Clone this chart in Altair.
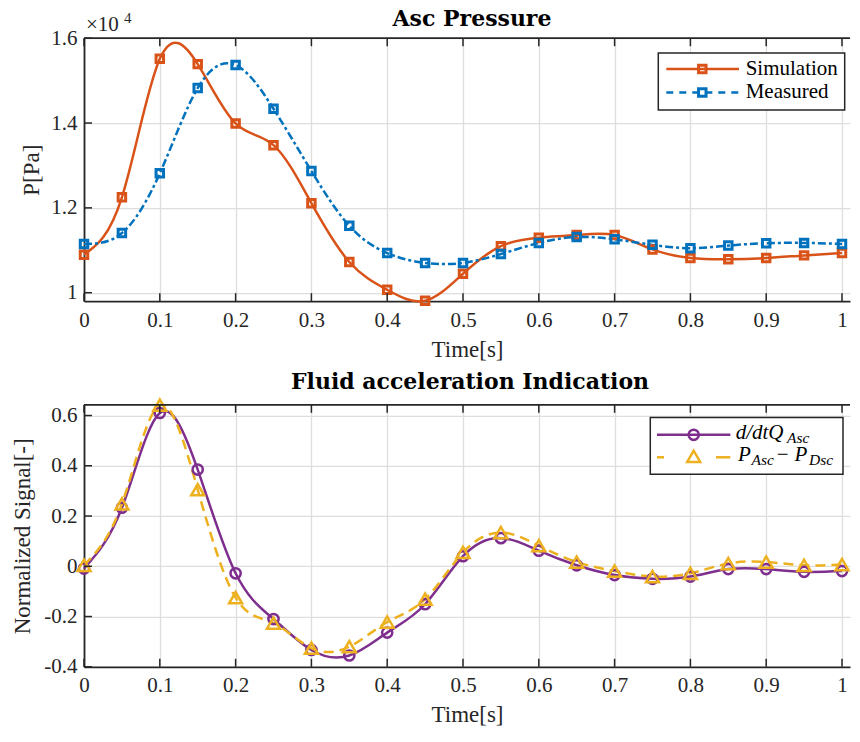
import altair as alt
import pandas as pd

# ---------------- data ----------------
t = [0.0, 0.05, 0.10, 0.15, 0.20, 0.25, 0.30, 0.35, 0.40, 0.45, 0.50,
     0.55, 0.60, 0.65, 0.70, 0.75, 0.80, 0.85, 0.90, 0.95, 1.00]
simulation = [10896, 12250, 15513, 15389, 13990, 13479, 12110, 10725, 10068, 9810, 10447,
              11097, 11298, 11360, 11360, 11020, 10818, 10787, 10818, 10880, 10934]
measured = [11150, 11406, 12814, 14824, 15366, 14337, 12868, 11576, 10934, 10702, 10702,
            10911, 11174, 11313, 11259, 11128, 11050, 11112, 11166, 11174, 11150]
dq_asc = [-0.009, 0.233, 0.610, 0.385, -0.028, -0.210, -0.333, -0.355, -0.264, -0.151, 0.040,
          0.112, 0.062, 0.004, -0.035, -0.050, -0.041, -0.011, -0.011, -0.022, -0.019]
p_diff = [0.004, 0.248, 0.641, 0.305, -0.125, -0.226, -0.326, -0.320, -0.222, -0.131, 0.055,
          0.134, 0.082, 0.017, -0.019, -0.041, -0.028, 0.011, 0.017, 0.004, 0.007]

x_ticks = [0, 0.1, 0.2, 0.3, 0.4, 0.5, 0.6, 0.7, 0.8, 0.9, 1.0]
y_ticks_top = [10000, 12000, 14000, 16000]
y_ticks_bot = [-0.4, -0.2, 0, 0.2, 0.4, 0.6]

top_title = "Asc Pressure"
bot_title = "Fluid acceleration Indication"
legend_top = ["Simulation", "Measured"]

# ---------------- styles ----------------
ORANGE = "#D95319"
BLUE = "#0072BD"
PURPLE = "#7E2F8E"
YELLOW = "#EDB120"
AX = "#262626"
FONT = "Liberation Serif"
W = 766
H1 = 263
H2 = 262
XMAX = 766 / 758
LX = -6   # legend shift

df_top = pd.DataFrame({"t": t, "sim": simulation, "meas": measured})
df_bot = pd.DataFrame({"t": t, "dq": dq_asc, "dp": p_diff})
one = pd.DataFrame({"k": [0]})
dfx = pd.DataFrame({"t": x_ticks})
dfy1 = pd.DataFrame({"sim": y_ticks_top})
dfy2 = pd.DataFrame({"dq": y_ticks_bot})

xs = alt.Scale(domain=[0, XMAX], nice=False, zero=False)
ys1 = alt.Scale(domain=[9800, 16000], nice=False, zero=False)
ys2 = alt.Scale(domain=[-0.4, 0.6427], nice=False, zero=False)

XAX = alt.Axis(values=x_ticks, format="~g", grid=True, ticks=False, domain=True,
               labelFlush=False, labelOverlap=False, title="Time[s]",
               labelPadding=8, titlePadding=8)
YAX1 = alt.Axis(values=y_ticks_top, labelExpr="format(datum.value/10000, '~g')", grid=True,
                ticks=False, domain=True, title="P[Pa]", labelPadding=7, titlePadding=7,
                labelFlush=False, labelOverlap=False)
YAX2 = alt.Axis(values=y_ticks_bot,
                labelExpr="datum.value < 0 ? '-' + format(-datum.value, '~g') : format(datum.value, '~g')",
                grid=True, ticks=False, domain=True, title="Normalized Signal[-]",
                labelPadding=7, titlePadding=9, labelFlush=False, labelOverlap=False)


def X():
    return alt.X("t:Q", scale=xs, axis=XAX)


def ticks_layer(H, dfy, yfield, ys, yax):
    tb = alt.Chart(dfx).mark_rule(color=AX, strokeWidth=1.5).encode(
        x=X(), y=alt.value(H - 8), y2=alt.value(H))
    tt = alt.Chart(dfx).mark_rule(color=AX, strokeWidth=1.5).encode(
        x=X(), y=alt.value(0), y2=alt.value(8))
    tl = alt.Chart(dfy).mark_rule(color=AX, strokeWidth=1.5).encode(
        y=alt.Y(yfield + ":Q", scale=ys, axis=yax), x=alt.value(0), x2=alt.value(8))
    border = alt.Chart(one).mark_rule(color=AX, strokeWidth=1.8).encode(
        x=alt.value(0), x2=alt.value(W), y=alt.value(0))
    return [tb, tt, tl, border]


def text_at(txt, x, y, size=21, italic=False, color="#000000", font=FONT,
            weight="normal", align="left"):
    return alt.Chart(one).mark_text(
        text=txt, align=align, baseline="alphabetic", font=font, fontSize=size,
        fontStyle="italic" if italic else "normal", fontWeight=weight, color=color
    ).encode(x=alt.value(x), y=alt.value(y))


def pts(df, field, ys, yax, shape, size, sw, color):
    return alt.Chart(df).mark_point(shape=shape, filled=False, size=size, strokeWidth=sw,
                                    color=color, opacity=1).encode(
        x=X(), y=alt.Y(field + ":Q", scale=ys, axis=yax))


def legend_point(shape, size, sw, color, x, y):
    return alt.Chart(one).mark_point(shape=shape, filled=False, size=size, strokeWidth=sw,
                                     color=color, opacity=1).encode(
        x=alt.value(x + LX), y=alt.value(y))


def legend_rule(color, x1, x2, y, dash=None):
    kw = {"color": color, "strokeWidth": 2.5}
    if dash:
        kw["strokeDash"] = dash
    return alt.Chart(one).mark_rule(**kw).encode(
        x=alt.value(x1 + LX), x2=alt.value(x2 + LX), y=alt.value(y))


def legend_box(x1, x2, y1, y2):
    return alt.Chart(one).mark_rect(fill="white", stroke=AX, strokeWidth=1.5).encode(
        x=alt.value(x1 + LX), x2=alt.value(x2 + LX), y=alt.value(y1), y2=alt.value(y2))


def ltext(txt, x, y, **kw):
    return text_at(txt, x + LX, y, **kw)


# ---------------- top panel ----------------
sim_line = alt.Chart(df_top).mark_line(interpolate="natural", color=ORANGE, strokeWidth=2.5).encode(
    x=X(), y=alt.Y("sim:Q", scale=ys1, axis=YAX1))
meas_line = alt.Chart(df_top).mark_line(interpolate="natural", color=BLUE, strokeWidth=2.5,
                                        strokeDash=[8, 3, 3, 3]).encode(
    x=X(), y=alt.Y("meas:Q", scale=ys1, axis=YAX1))
sim_pts = pts(df_top, "sim", ys1, YAX1, "square", 56, 3, ORANGE)
meas_pts = pts(df_top, "meas", ys1, YAX1, "square", 56, 3, BLUE)

leg1 = [
    legend_box(580.3, 766.7, 14.7, 71.7),
    legend_rule(ORANGE, 588.3, 661, 30.7),
    legend_rule(BLUE, 588.3, 661, 54.4, [7, 6]),
    legend_point("square", 56, 3, ORANGE, 624.3, 30.7),
    legend_point("square", 56, 3, BLUE, 624.3, 54.4),
    ltext(legend_top[0], 667.7, 36.5),
    ltext(legend_top[1], 667.7, 60),
    text_at("×10", 2, -7.5, size=21, color=AX),
    text_at("4", 40, -15.5, size=15, color=AX),
    text_at(top_title, 388, -12.6, size=22, font="DejaVu Serif", weight="bold", align="center"),
]

top = alt.layer(
    sim_line, meas_line, sim_pts, meas_pts,
    *ticks_layer(H1, dfy1, "sim", ys1, YAX1), *leg1
).properties(width=W, height=H1)

# ---------------- bottom panel ----------------
dq_line = alt.Chart(df_bot).mark_line(interpolate="natural", color=PURPLE, strokeWidth=2.5).encode(
    x=X(), y=alt.Y("dq:Q", scale=ys2, axis=YAX2))
dp_line = alt.Chart(df_bot).mark_line(interpolate="natural", color=YELLOW, strokeWidth=2.5,
                                      strokeDash=[10, 6]).encode(
    x=X(), y=alt.Y("dp:Q", scale=ys2, axis=YAX2))
dq_pts = pts(df_bot, "dq", ys2, YAX2, "circle", 104, 2.5, PURPLE)
dp_pts = pts(df_bot, "dp", ys2, YAX2, "triangle-up", 169, 2.5, YELLOW)

SUB = 15.5
leg2 = [
    legend_box(572.3, 765, 12.7, 69.4),
    legend_rule(PURPLE, 579, 652.3, 30),
    legend_rule(YELLOW, 579, 586, 52.5),
    legend_rule(YELLOW, 638, 652.3, 52.5),
    legend_point("circle", 104, 2.5, PURPLE, 615.7, 30),
    legend_point("triangle-up", 169, 2.5, YELLOW, 615.7, 51.5),
    ltext("d/dtQ", 657.7, 34.4, italic=True),
    ltext("Asc", 709, 38.0, size=SUB, italic=True),
    ltext("P", 660, 56, italic=True),
    ltext("Asc", 673.5, 60, size=SUB, italic=True),
    ltext("\u2212", 698.7, 56),
    ltext("P", 716.5, 56, italic=True),
    ltext("Dsc", 731, 60, size=SUB, italic=True),
    text_at(bot_title, 386, -15.6, size=22, font="DejaVu Serif", weight="bold", align="center"),
]

bottom = alt.layer(
    dq_line, dp_line, dq_pts, dp_pts,
    *ticks_layer(H2, dfy2, "dq", ys2, YAX2), *leg2
).properties(width=W, height=H2)

chart = alt.vconcat(top, bottom, spacing=9.6).properties(
    padding={"left": 3, "top": -0.8, "right": -2, "bottom": 0}
).configure_view(stroke=None).configure_axis(
    labelFont=FONT, labelFontSize=21, labelColor=AX,
    titleFont=FONT, titleFontSize=23, titleColor=AX, titleFontWeight="normal",
    gridColor="#dedede", gridWidth=1.3, gridOpacity=1,
    domainColor=AX, domainWidth=1.8
)

chart.save("out.html", embed_options={"renderer": "svg", "actions": False})
